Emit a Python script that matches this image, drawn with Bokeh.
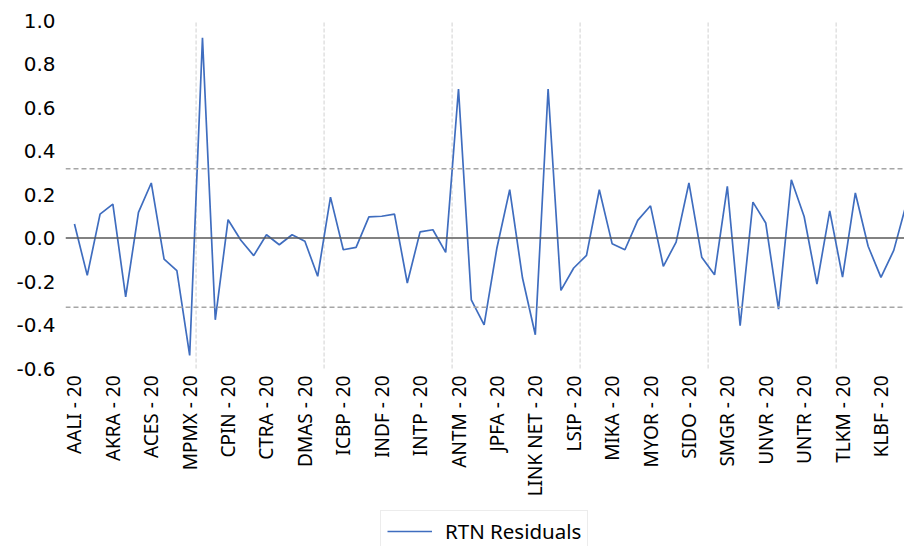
import math
from bokeh.plotting import figure
from bokeh.models import (FixedTicker, Span, Legend, LegendItem, PrintfTickFormatter,
                          Range1d, ColumnDataSource)
from bokeh.embed import file_html
from bokeh.resources import INLINE

# ---- data -------------------------------------------------------------
residuals = [0.064, -0.172, 0.110, 0.156, -0.271, 0.118, 0.253, -0.097, -0.150, -0.540,
             0.920, -0.376, 0.084, -0.010, -0.081, 0.015, -0.031, 0.015, -0.015, -0.176,
             0.188, -0.054, -0.043, 0.097, 0.100, 0.110, -0.207, 0.028, 0.038, -0.066,
             0.685, -0.284, -0.399, -0.046, 0.222, -0.184, -0.445, 0.685, -0.241, -0.138,
             -0.080, 0.222, -0.026, -0.054, 0.081, 0.148, -0.130, -0.019, 0.253, -0.088,
             -0.169, 0.237, -0.403, 0.165, 0.069, -0.327, 0.268, 0.099, -0.212, 0.125,
             -0.180, 0.207, -0.038, -0.181, -0.057, 0.160]

tick_labels = ["AALI - 20", "AKRA - 20", "ACES - 20", "MPMX - 20", "CPIN - 20",
               "CTRA - 20", "DMAS - 20", "ICBP - 20", "INDF - 20", "INTP - 20",
               "ANTM - 20", "JPFA - 20", "LINK NET - 20", "LSIP - 20", "MIKA - 20",
               "MYOR - 20", "SIDO - 20", "SMGR - 20", "UNVR - 20", "UNTR - 20",
               "TLKM - 20", "KLBF - 20"]
label_step = 3
grid_step = 10
y_ticks = [-0.6, -0.4, -0.2, 0.0, 0.2, 0.4, 0.6, 0.8, 1.0]
control_limit = 0.318
series_name = "RTN Residuals"

# ---- figure -------------------------------------------------------------
x_idx = list(range(len(residuals)))
tick_pos = [i * label_step for i in range(len(tick_labels))]
grid_pos = [i - 0.5 for i in range(grid_step, len(residuals), grid_step)]
source = ColumnDataSource(data=dict(x=x_idx, y=residuals))

# the frame reaches down to the bottom of the picture so that the legend can sit
# below the category labels; the x axis is pinned at the bottom of the value scale
px_per_unit = 348 / (y_ticks[-1] - y_ticks[0])
y_bottom = y_ticks[0] - 178 / px_per_unit

p = figure(frame_width=839, frame_height=526,
           x_range=Range1d(-0.7, 64.84), y_range=Range1d(y_bottom, y_ticks[-1]),
           output_backend="svg", toolbar_location=None,
           min_border_left=65, min_border_right=0, min_border_top=20,
           min_border_bottom=0, outline_line_color=None,
           background_fill_color="white", border_fill_color="white")

p.xgrid.grid_line_color = None
p.ygrid.grid_line_color = None

# vertical dashed gridlines every 10 points, spanning the value scale only
p.segment(x0=grid_pos, x1=grid_pos, y0=[y_ticks[0]] * len(grid_pos),
          y1=[y_ticks[-1]] * len(grid_pos), line_color="#d9d9d9",
          line_dash="4 2", line_width=1.2)

# x axis
p.xaxis.fixed_location = y_ticks[0]
p.xaxis.ticker = FixedTicker(ticks=tick_pos)
p.xaxis.major_label_overrides = {pos: lab for pos, lab in zip(tick_pos, tick_labels)}
p.xaxis.major_label_orientation = math.pi / 2
p.xaxis.axis_line_color = None
p.xaxis.major_tick_line_color = None
p.xaxis.minor_tick_line_color = None
p.xaxis.major_tick_out = 0
p.xaxis.major_tick_in = 0
p.xaxis.major_label_standoff = 7
p.xaxis.major_label_text_font = "Noto Sans"
p.xaxis.major_label_text_font_size = "19px"
p.xaxis.major_label_text_color = "#000000"

# y axis
p.yaxis.ticker = FixedTicker(ticks=y_ticks)
p.yaxis.formatter = PrintfTickFormatter(format="%.1f")
p.yaxis.axis_line_color = None
p.yaxis.major_tick_line_color = None
p.yaxis.minor_tick_line_color = None
p.yaxis.major_tick_out = 0
p.yaxis.major_tick_in = 0
p.yaxis.major_label_standoff = 10
p.yaxis.major_label_text_font = "DejaVu Sans"
p.yaxis.major_label_text_font_size = "20px"
p.yaxis.major_label_text_color = "#000000"

# reference lines
p.add_layout(Span(location=0, dimension="width", line_color="#595959", line_width=1.5))
p.add_layout(Span(location=control_limit, dimension="width", line_color="#a6a6a6",
                  line_width=1.5, line_dash="5 3"))
p.add_layout(Span(location=-control_limit, dimension="width", line_color="#a6a6a6",
                  line_width=1.5, line_dash="5 3"))

r = p.line("x", "y", source=source, line_color="#3f6dbf", line_width=1.7)

legend = Legend(items=[LegendItem(label=series_name, renderers=[r])],
                location=(315, -6), orientation="horizontal",
                padding=6, margin=0, glyph_width=45, glyph_height=14,
                label_height=14, label_standoff=13, label_text_font="Noto Sans",
                label_text_font_size="20.5px", label_text_color="#000000",
                border_line_color="#d9d9d9", border_line_width=1.2,
                background_fill_color="white")
p.add_layout(legend)

open("out.html", "w").write(file_html(p, INLINE))
